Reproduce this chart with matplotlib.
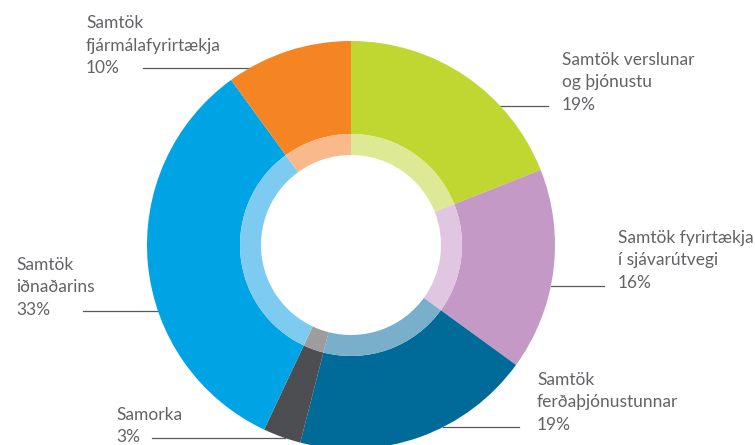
import numpy as np
import matplotlib.pyplot as plt

# chart data
labels = [
    ['Samtök verslunar', 'og þjónustu'],
    ['Samtök fyrirtækja', 'í sjávarútvegi'],
    ['Samtök', 'ferðaþjónustunnar'],
    ['Samorka'],
    ['Samtök', 'iðnaðarins'],
    ['Samtök', 'fjármálafyrirtækja'],
]
values = [19, 16, 19, 3, 33, 10]
outer_colors = ['#bfd730', '#c499c5', '#006a98', '#4d4e52', '#00a3e3', '#f58423']
inner_colors = ['#dde995', '#e0c6e0', '#79afca', '#9d9d9d', '#7dcbf1', '#f9b98a']

# layout (pixels, y measured from top of image)
W, H = 755, 445
cx, cy = 351, 245
R = 204
r_ring = 111
r_hole = 90
# text left x, y of first line, leader line y, free end of leader
label_pos = [
    (562, 60, 106, 548),
    (618, 238, 286, 604),
    (537, 380, 427, 519),
    (116, 415, 438, 152),
    (16, 265, 311, 83),
    (86, 23, 68, 143),
]
line_gap = 22.5
text_color = '#626366'

fig = plt.figure(figsize=(W / 100, H / 100), dpi=100)
ax = fig.add_axes([0, 0, 1, 1])

ax.pie(values, radius=R, center=(cx, H - cy), startangle=90, counterclock=False,
       colors=outer_colors, wedgeprops=dict(width=R - r_ring, linewidth=0))
ax.pie(values, radius=r_ring, center=(cx, H - cy), startangle=90, counterclock=False,
       colors=inner_colors, wedgeprops=dict(width=r_ring - r_hole, linewidth=0))

for lab, v, (tx, ty, ly, lx) in zip(labels, values, label_pos):
    lines = lab + ['%d%%' % v]
    for i, s in enumerate(lines):
        ax.text(tx, H - (ty + i * line_gap), s, fontsize=12.5, color=text_color,
                family=['Lato', 'DejaVu Sans'], va='center', ha='left')
    dx = np.sqrt(max(R ** 2 - (ly - cy) ** 2, 0))
    edge = cx + dx if lx > cx else cx - dx
    ax.plot([edge, lx], [H - ly, H - ly], color='#58595b', lw=0.9, zorder=0)

ax.set_xlim(0, W)
ax.set_ylim(0, H)
ax.set_aspect('equal')
ax.axis('off')

fig.savefig('out.png', dpi=100)
